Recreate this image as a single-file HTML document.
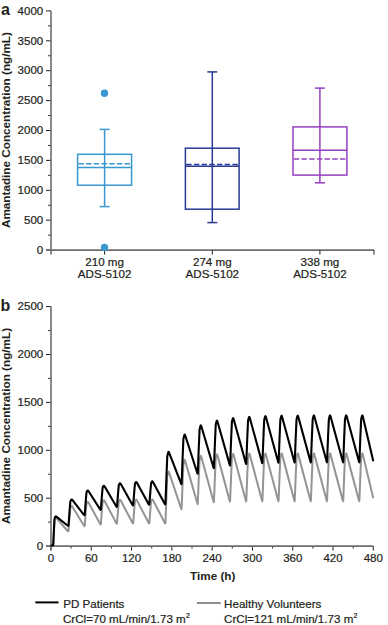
<!DOCTYPE html><html><head><meta charset="utf-8"><style>html,body{margin:0;padding:0;background:#fff;width:388px;height:625px;overflow:hidden}svg{display:block}text{font-family:"Liberation Sans",sans-serif;fill:#231f20;stroke:#231f20;stroke-width:0.22px}text[font-weight]{stroke:none}</style></head><body>
<svg width="388" height="625" viewBox="0 0 388 625">
<text x="1" y="15" font-size="16" font-weight="bold">a</text>
<text transform="translate(9.7,130.05) rotate(-90)" text-anchor="middle" font-size="11.72" font-weight="bold">Amantadine Concentration (ng/mL)</text>
<line x1="46" y1="250.10" x2="51" y2="250.10" stroke="#231f20" stroke-width="1"/>
<text x="43.2" y="253.80" font-size="11.5" text-anchor="end">0</text>
<line x1="48.2" y1="235.15" x2="51" y2="235.15" stroke="#231f20" stroke-width="1"/>
<line x1="46" y1="220.20" x2="51" y2="220.20" stroke="#231f20" stroke-width="1"/>
<text x="43.2" y="223.90" font-size="11.5" text-anchor="end">500</text>
<line x1="48.2" y1="205.25" x2="51" y2="205.25" stroke="#231f20" stroke-width="1"/>
<line x1="46" y1="190.30" x2="51" y2="190.30" stroke="#231f20" stroke-width="1"/>
<text x="43.2" y="194.00" font-size="11.5" text-anchor="end">1000</text>
<line x1="48.2" y1="175.35" x2="51" y2="175.35" stroke="#231f20" stroke-width="1"/>
<line x1="46" y1="160.40" x2="51" y2="160.40" stroke="#231f20" stroke-width="1"/>
<text x="43.2" y="164.10" font-size="11.5" text-anchor="end">1500</text>
<line x1="48.2" y1="145.45" x2="51" y2="145.45" stroke="#231f20" stroke-width="1"/>
<line x1="46" y1="130.50" x2="51" y2="130.50" stroke="#231f20" stroke-width="1"/>
<text x="43.2" y="134.20" font-size="11.5" text-anchor="end">2000</text>
<line x1="48.2" y1="115.55" x2="51" y2="115.55" stroke="#231f20" stroke-width="1"/>
<line x1="46" y1="100.60" x2="51" y2="100.60" stroke="#231f20" stroke-width="1"/>
<text x="43.2" y="104.30" font-size="11.5" text-anchor="end">2500</text>
<line x1="48.2" y1="85.65" x2="51" y2="85.65" stroke="#231f20" stroke-width="1"/>
<line x1="46" y1="70.70" x2="51" y2="70.70" stroke="#231f20" stroke-width="1"/>
<text x="43.2" y="74.40" font-size="11.5" text-anchor="end">3000</text>
<line x1="48.2" y1="55.75" x2="51" y2="55.75" stroke="#231f20" stroke-width="1"/>
<line x1="46" y1="40.80" x2="51" y2="40.80" stroke="#231f20" stroke-width="1"/>
<text x="43.2" y="44.50" font-size="11.5" text-anchor="end">3500</text>
<line x1="48.2" y1="25.85" x2="51" y2="25.85" stroke="#231f20" stroke-width="1"/>
<line x1="46" y1="10.90" x2="51" y2="10.90" stroke="#231f20" stroke-width="1"/>
<text x="43.2" y="14.60" font-size="11.5" text-anchor="end">4000</text>
<line x1="51" y1="10.90" x2="51" y2="254.6" stroke="#6d6d6d" stroke-width="1.6"/>
<line x1="46" y1="250.1" x2="374" y2="250.1" stroke="#6d6d6d" stroke-width="1.6"/>
<line x1="104.6" y1="250.1" x2="104.6" y2="254.6" stroke="#231f20" stroke-width="1"/>
<line x1="212.3" y1="250.1" x2="212.3" y2="254.6" stroke="#231f20" stroke-width="1"/>
<line x1="319.9" y1="250.1" x2="319.9" y2="254.6" stroke="#231f20" stroke-width="1"/>
<line x1="374" y1="250.1" x2="374" y2="254.6" stroke="#231f20" stroke-width="1"/>
<text x="104.6" y="265.9" font-size="11.6" text-anchor="middle">210 mg</text>
<text x="104.6" y="277.9" font-size="11.6" text-anchor="middle">ADS-5102</text>
<text x="212.3" y="265.9" font-size="11.6" text-anchor="middle">274 mg</text>
<text x="212.3" y="277.9" font-size="11.6" text-anchor="middle">ADS-5102</text>
<text x="319.9" y="265.9" font-size="11.6" text-anchor="middle">338 mg</text>
<text x="319.9" y="277.9" font-size="11.6" text-anchor="middle">ADS-5102</text>
<g stroke="#3b97d0" stroke-width="1.5" fill="none"><line x1="104.6" y1="129.4" x2="104.6" y2="206.6"/><line x1="99.6" y1="129.4" x2="109.6" y2="129.4"/><line x1="99.6" y1="206.6" x2="109.6" y2="206.6"/><rect x="77.6" y="154.3" width="54.0" height="30.899999999999977"/><line x1="77.6" y1="167.6" x2="131.6" y2="167.6"/><line x1="78.39999999999999" y1="163.7" x2="131.6" y2="163.7" stroke-dasharray="5.4 2.3"/></g>
<circle cx="104.5" cy="93.3" r="3.7" fill="#3b97d0"/><circle cx="104.5" cy="247.4" r="3.7" fill="#3b97d0"/>
<g stroke="#283a94" stroke-width="1.5" fill="none"><line x1="212.3" y1="71.9" x2="212.3" y2="222.6"/><line x1="207.3" y1="71.9" x2="217.3" y2="71.9"/><line x1="207.3" y1="222.6" x2="217.3" y2="222.6"/><rect x="185.4" y="148.2" width="53.69999999999999" height="61.0"/><line x1="185.4" y1="166.2" x2="239.1" y2="166.2"/><line x1="186.20000000000002" y1="164.5" x2="239.1" y2="164.5" stroke-dasharray="5.4 2.3"/></g>
<g stroke="#9440c0" stroke-width="1.5" fill="none"><line x1="319.9" y1="88.1" x2="319.9" y2="182.8"/><line x1="314.9" y1="88.1" x2="324.9" y2="88.1"/><line x1="314.9" y1="182.8" x2="324.9" y2="182.8"/><rect x="293.0" y="126.9" width="53.89999999999998" height="48.19999999999999"/><line x1="293.0" y1="150.2" x2="346.9" y2="150.2"/><line x1="293.8" y1="159.1" x2="346.9" y2="159.1" stroke-dasharray="5.4 2.3"/></g>
<text x="0.6" y="311" font-size="16" font-weight="bold">b</text>
<text transform="translate(9.7,425.95) rotate(-90)" text-anchor="middle" font-size="11.72" font-weight="bold">Amantadine Concentration (ng/mL)</text>
<line x1="46" y1="546.10" x2="51" y2="546.10" stroke="#231f20" stroke-width="1"/>
<text x="43.2" y="549.80" font-size="11.5" text-anchor="end">0</text>
<line x1="48.2" y1="522.15" x2="51" y2="522.15" stroke="#231f20" stroke-width="1"/>
<line x1="46" y1="498.20" x2="51" y2="498.20" stroke="#231f20" stroke-width="1"/>
<text x="43.2" y="501.90" font-size="11.5" text-anchor="end">500</text>
<line x1="48.2" y1="474.25" x2="51" y2="474.25" stroke="#231f20" stroke-width="1"/>
<line x1="46" y1="450.30" x2="51" y2="450.30" stroke="#231f20" stroke-width="1"/>
<text x="43.2" y="454.00" font-size="11.5" text-anchor="end">1000</text>
<line x1="48.2" y1="426.35" x2="51" y2="426.35" stroke="#231f20" stroke-width="1"/>
<line x1="46" y1="402.40" x2="51" y2="402.40" stroke="#231f20" stroke-width="1"/>
<text x="43.2" y="406.10" font-size="11.5" text-anchor="end">1500</text>
<line x1="48.2" y1="378.45" x2="51" y2="378.45" stroke="#231f20" stroke-width="1"/>
<line x1="46" y1="354.50" x2="51" y2="354.50" stroke="#231f20" stroke-width="1"/>
<text x="43.2" y="358.20" font-size="11.5" text-anchor="end">2000</text>
<line x1="48.2" y1="330.55" x2="51" y2="330.55" stroke="#231f20" stroke-width="1"/>
<line x1="46" y1="306.60" x2="51" y2="306.60" stroke="#231f20" stroke-width="1"/>
<text x="43.2" y="310.30" font-size="11.5" text-anchor="end">2500</text>
<line x1="51.00" y1="546.1" x2="51.00" y2="550.6" stroke="#231f20" stroke-width="1"/>
<text x="51.00" y="561.9" font-size="11.5" text-anchor="middle">0</text>
<line x1="71.14" y1="546.1" x2="71.14" y2="548.5" stroke="#231f20" stroke-width="1"/>
<line x1="91.29" y1="546.1" x2="91.29" y2="550.6" stroke="#231f20" stroke-width="1"/>
<text x="91.29" y="561.9" font-size="11.5" text-anchor="middle">60</text>
<line x1="111.43" y1="546.1" x2="111.43" y2="548.5" stroke="#231f20" stroke-width="1"/>
<line x1="131.57" y1="546.1" x2="131.57" y2="550.6" stroke="#231f20" stroke-width="1"/>
<text x="131.57" y="561.9" font-size="11.5" text-anchor="middle">120</text>
<line x1="151.72" y1="546.1" x2="151.72" y2="548.5" stroke="#231f20" stroke-width="1"/>
<line x1="171.86" y1="546.1" x2="171.86" y2="550.6" stroke="#231f20" stroke-width="1"/>
<text x="171.86" y="561.9" font-size="11.5" text-anchor="middle">180</text>
<line x1="192.01" y1="546.1" x2="192.01" y2="548.5" stroke="#231f20" stroke-width="1"/>
<line x1="212.15" y1="546.1" x2="212.15" y2="550.6" stroke="#231f20" stroke-width="1"/>
<text x="212.15" y="561.9" font-size="11.5" text-anchor="middle">240</text>
<line x1="232.29" y1="546.1" x2="232.29" y2="548.5" stroke="#231f20" stroke-width="1"/>
<line x1="252.44" y1="546.1" x2="252.44" y2="550.6" stroke="#231f20" stroke-width="1"/>
<text x="252.44" y="561.9" font-size="11.5" text-anchor="middle">300</text>
<line x1="272.58" y1="546.1" x2="272.58" y2="548.5" stroke="#231f20" stroke-width="1"/>
<line x1="292.73" y1="546.1" x2="292.73" y2="550.6" stroke="#231f20" stroke-width="1"/>
<text x="292.73" y="561.9" font-size="11.5" text-anchor="middle">360</text>
<line x1="312.87" y1="546.1" x2="312.87" y2="548.5" stroke="#231f20" stroke-width="1"/>
<line x1="333.01" y1="546.1" x2="333.01" y2="550.6" stroke="#231f20" stroke-width="1"/>
<text x="333.01" y="561.9" font-size="11.5" text-anchor="middle">420</text>
<line x1="353.16" y1="546.1" x2="353.16" y2="548.5" stroke="#231f20" stroke-width="1"/>
<line x1="373.30" y1="546.1" x2="373.30" y2="550.6" stroke="#231f20" stroke-width="1"/>
<text x="373.30" y="561.9" font-size="11.5" text-anchor="middle">480</text>
<line x1="51" y1="306.60" x2="51" y2="550.6" stroke="#6d6d6d" stroke-width="1.6"/>
<line x1="46" y1="546.1" x2="373.3" y2="546.1" stroke="#6d6d6d" stroke-width="1.6"/>
<text x="212.7" y="579.6" font-size="11.7" font-weight="bold" text-anchor="middle">Time (h)</text>
<path d="M50.60,545.60 L52.60,545.45 Q53.20,545.40 53.23,544.80 L53.97,529.70 L54.52,519.71 L55.00,518.14 Q55.40,516.85 56.45,518.06 L67.67,530.97 Q68.46,531.88 68.55,530.68 L69.54,517.28 L70.32,507.98 L71.00,506.52 Q71.56,505.33 72.39,506.70 L84.00,525.79 Q84.62,526.81 84.71,525.62 L85.70,512.70 L86.47,503.72 L87.15,502.31 Q87.71,501.16 88.48,502.56 L100.20,523.96 Q100.78,525.01 100.87,523.81 L101.86,511.07 L102.63,502.20 L103.31,500.80 Q103.87,499.66 104.61,501.08 L116.38,523.31 Q116.94,524.37 117.03,523.17 L118.02,510.49 L118.79,501.65 L119.47,500.27 Q120.02,499.13 120.76,500.55 L132.54,523.08 Q133.10,524.14 133.19,522.94 L134.18,510.28 L134.94,501.46 L135.62,500.08 Q136.17,498.94 136.91,500.36 L148.71,523.00 Q149.26,524.06 149.35,522.86 L150.33,510.21 L151.10,501.39 L151.78,500.01 Q152.33,498.87 153.07,500.29 L164.87,522.97 Q165.42,524.03 165.46,522.83 L166.49,494.74 L167.26,476.10 L168.13,472.34 Q168.49,470.78 168.99,472.30 L181.20,508.66 Q181.58,509.80 181.63,508.60 L182.65,481.91 L183.42,464.16 L184.26,460.65 Q184.64,459.09 185.08,460.63 L197.41,503.58 Q197.74,504.73 197.79,503.53 L198.81,477.32 L199.57,459.88 L200.41,456.45 Q200.80,454.90 201.22,456.44 L213.58,501.77 Q213.90,502.93 213.95,501.73 L214.97,475.69 L215.73,458.35 L216.57,454.95 Q216.95,453.40 217.36,454.95 L229.75,501.12 Q230.06,502.28 230.11,501.08 L231.13,475.10 L231.89,457.81 L232.72,454.42 Q233.11,452.87 233.52,454.41 L245.91,500.90 Q246.22,502.06 246.27,500.86 L247.28,474.90 L248.04,457.62 L248.88,454.23 Q249.26,452.68 249.67,454.22 L262.07,500.81 Q262.38,501.97 262.43,500.77 L263.44,474.82 L264.20,457.55 L265.03,454.16 Q265.41,452.61 265.83,454.16 L278.23,500.79 Q278.54,501.94 278.59,500.75 L279.60,474.80 L280.36,457.52 L281.19,454.14 Q281.57,452.59 281.98,454.13 L294.39,500.77 Q294.70,501.93 294.75,500.74 L295.76,474.79 L296.52,457.51 L297.34,454.13 Q297.73,452.58 298.14,454.12 L310.55,500.77 Q310.86,501.93 310.91,500.73 L311.92,474.78 L312.67,457.51 L313.50,454.13 Q313.88,452.57 314.29,454.12 L326.71,500.77 Q327.02,501.93 327.07,500.73 L328.08,474.78 L328.83,457.51 L329.66,454.13 Q330.04,452.57 330.45,454.12 L342.87,500.77 Q343.18,501.93 343.23,500.73 L344.23,474.78 L344.99,457.51 L345.81,454.13 Q346.19,452.57 346.60,454.12 L359.03,500.77 Q359.34,501.93 359.39,500.73 L360.39,474.78 L361.14,457.51 L361.97,454.13 Q362.34,452.57 362.72,454.13 L373.30,498.30" fill="none" stroke="#949494" stroke-width="2" stroke-linejoin="round"/>
<path d="M50.60,545.60 L52.60,545.45 Q53.20,545.40 53.23,544.80 L53.97,529.15 L54.52,518.81 L55.00,517.18 Q55.40,515.85 56.65,516.84 L67.52,525.46 Q68.46,526.20 68.55,525.00 L69.54,511.18 L70.32,501.62 L71.00,500.12 Q71.56,498.89 72.53,500.16 L83.89,514.88 Q84.62,515.83 84.71,514.63 L85.70,501.57 L86.47,492.49 L87.15,491.07 Q87.71,489.90 88.57,491.25 L100.14,509.40 Q100.78,510.41 100.87,509.22 L101.86,496.53 L102.63,487.70 L103.31,486.31 Q103.87,485.18 104.67,486.56 L116.34,506.56 Q116.94,507.59 117.03,506.40 L118.02,493.90 L118.79,485.19 L119.47,483.83 Q120.02,482.71 120.80,484.10 L132.51,505.07 Q133.10,506.12 133.19,504.93 L134.18,492.53 L134.94,483.88 L135.62,482.53 Q136.17,481.41 136.94,482.82 L148.68,504.30 Q149.26,505.35 149.35,504.16 L150.33,491.82 L151.10,483.20 L151.78,481.85 Q152.33,480.74 153.09,482.15 L164.85,503.90 Q165.42,504.95 165.46,503.76 L166.49,475.35 L167.26,456.51 L168.13,452.68 Q168.49,451.12 169.06,452.62 L181.15,483.73 Q181.58,484.85 181.63,483.65 L182.65,456.71 L183.42,438.80 L184.27,435.24 Q184.64,433.69 185.13,435.21 L197.37,473.22 Q197.74,474.36 197.79,473.16 L198.81,446.96 L199.57,429.52 L200.41,426.09 Q200.80,424.53 201.25,426.07 L213.56,467.74 Q213.90,468.89 213.95,467.70 L214.97,441.86 L215.73,424.66 L216.56,421.30 Q216.95,419.74 217.39,421.28 L229.73,464.89 Q230.06,466.04 230.11,464.84 L231.13,439.20 L231.89,422.12 L232.72,418.79 Q233.11,417.24 233.53,418.78 L245.90,463.40 Q246.22,464.56 246.27,463.36 L247.28,437.81 L248.04,420.80 L248.87,417.49 Q249.26,415.93 249.68,417.48 L262.06,462.62 Q262.38,463.78 262.43,462.58 L263.44,437.09 L264.20,420.11 L265.03,416.81 Q265.41,415.25 265.84,416.80 L278.22,462.22 Q278.54,463.38 278.59,462.18 L279.60,436.71 L280.36,419.75 L281.18,416.45 Q281.57,414.90 281.99,416.44 L294.39,462.01 Q294.70,463.17 294.75,461.97 L295.76,436.52 L296.52,419.56 L297.34,416.27 Q297.73,414.71 298.14,416.26 L310.55,461.90 Q310.86,463.06 310.91,461.86 L311.92,436.41 L312.67,419.46 L313.49,416.17 Q313.88,414.62 314.30,416.16 L326.71,461.84 Q327.02,463.00 327.07,461.80 L328.08,436.36 L328.83,419.41 L329.65,416.12 Q330.04,414.57 330.45,416.11 L342.87,461.81 Q343.18,462.97 343.23,461.77 L344.23,436.33 L344.99,419.38 L345.80,416.09 Q346.19,414.54 346.61,416.08 L359.03,461.80 Q359.34,462.95 359.39,461.75 L360.39,436.32 L361.14,419.37 L361.96,416.08 Q362.34,414.53 362.71,416.08 L373.30,461.20" fill="none" stroke="#000" stroke-width="2.1" stroke-linejoin="round"/>
<line x1="35.3" y1="602.4" x2="58.5" y2="602.4" stroke="#000" stroke-width="2"/>
<text x="63.2" y="607.5" font-size="11.6">PD Patients</text>
<text x="63.0" y="622.7" font-size="11.6">CrCl=70 mL/min/1.73 m<tspan font-size="7" dx="0.3" dy="-4.3">2</tspan></text>
<line x1="197" y1="603" x2="220.8" y2="603" stroke="#8f8f8f" stroke-width="2"/>
<text x="224.1" y="607.5" font-size="11.6">Healthy Volunteers</text>
<text x="224.1" y="622.7" font-size="11.6">CrCl=121 mL/min/1.73 m<tspan font-size="7" dx="0.3" dy="-4.3">2</tspan></text>
</svg></body></html>
